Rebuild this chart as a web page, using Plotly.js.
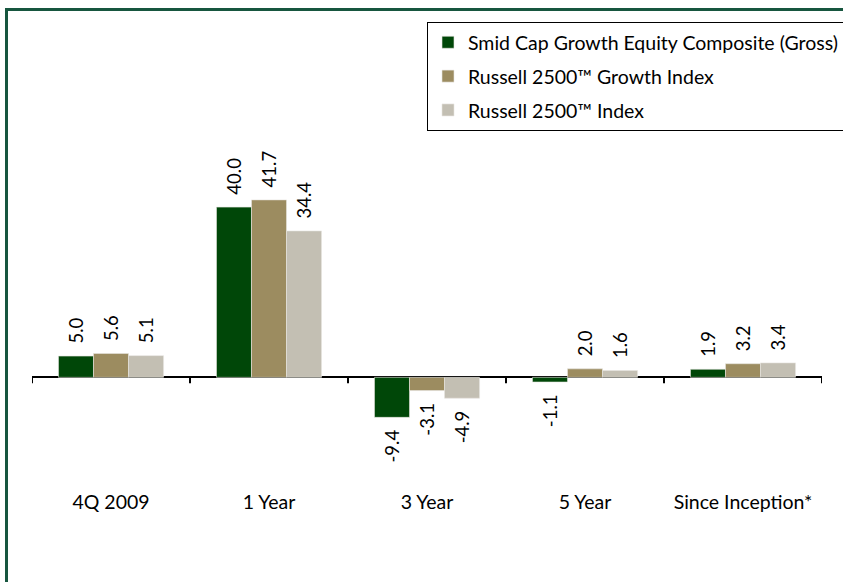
<!DOCTYPE html>
<html><head><meta charset="utf-8">
<script src="https://cdn.plot.ly/plotly-3.0.1.min.js"></script>
<style>
html,body{margin:0;padding:0;background:#fff;}
#wrap{position:relative;width:843px;height:582px;overflow:hidden;}
#frame{position:absolute;left:5px;top:8px;width:900px;height:700px;border-left:3px solid #17563f;border-top:3px solid #17563f;pointer-events:none;}
#chart{position:absolute;left:0;top:0;width:843px;height:582px;}
</style></head>
<body><div id="wrap"><div id="chart"></div><div id="frame"></div></div>
<script>
const categories = ['4Q 2009', '1 Year', '3 Year', '5 Year', 'Since Inception*'];
const seriesNames = ['Smid Cap Growth Equity Composite (Gross)', 'Russell 2500™ Growth Index', 'Russell 2500™ Index'];
const composite = [5.0, 40.0, -9.4, -1.1, 1.9];
const growthIndex = [5.6, 41.7, -3.1, 2.0, 3.2];
const index2500 = [5.1, 34.4, -4.9, 1.6, 3.4];
const colors = ['#004708', '#9c8c60', '#c3bfb3'];

const FONT = 'Lato, "Open Sans", sans-serif';
const pad = '\u00a0\u00a0';
function lab(v){ return v >= 0 ? pad + v.toFixed(1) : v.toFixed(1) + pad; }

const series = [composite, growthIndex, index2500];
const traces = series.map((vals, i) => ({
  type: 'bar',
  name: seriesNames[i],
  x: categories,
  y: vals,
  text: vals.map(lab),
  textposition: 'outside',
  textangle: -90,
  constraintext: 'none',
  cliponaxis: false,
  textfont: {family: FONT, size: 18.5, color: '#000'},
  marker: {color: colors[i], line: {color: '#e8e6e0', width: 0.6}},
  legendgroup: 'g' + i,
  hoverinfo: 'skip'
}));

const boundaries = [];
for (let i = 0; i <= categories.length; i++) boundaries.push(i - 0.5);
const shapes = boundaries.map(b => ({
  type: 'line', xref: 'x', yref: 'y', ysizemode: 'pixel', yanchor: 0,
  x0: b, x1: b, y0: 0, y1: -6, line: {color: '#000', width: 2}
}));

const layout = {
  width: 843, height: 582,
  margin: {l: 32, r: 21, t: 122, b: 94, autoexpand: false},
  paper_bgcolor: 'rgba(0,0,0,0)', plot_bgcolor: 'rgba(0,0,0,0)',
  barmode: 'group', bargap: 0.335, bargroupgap: 0,
  font: {family: FONT, size: 19.5, color: '#000'},
  xaxis: {type: 'category', range: [-0.5, 4.5], showline: false, ticks: '', showgrid: false,
          tickfont: {family: FONT, size: 19.5, color: '#000'}, fixedrange: true},
  yaxis: {range: [-26, 60], showgrid: false, showticklabels: false, ticks: '', showline: false,
          zeroline: true, zerolinecolor: '#000', zerolinewidth: 2, fixedrange: true},
  showlegend: true,
  legend: {x: 0.50, xanchor: 'left', y: 1.273, yanchor: 'top', orientation: 'v',
           traceorder: 'grouped', tracegroupgap: 5.5,
           bordercolor: '#000', borderwidth: 1, bgcolor: '#fff',
           font: {family: FONT, size: 19.5, color: '#000'}, itemwidth: 30},
  shapes: shapes
};
Plotly.newPlot('chart', traces, layout, {staticPlot: true, displayModeBar: false});
</script></body></html>
